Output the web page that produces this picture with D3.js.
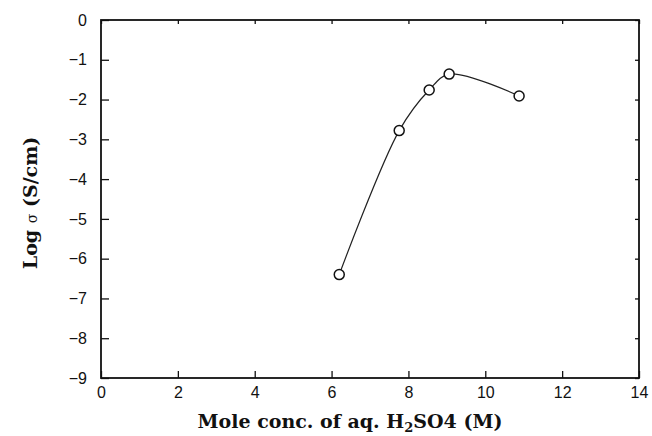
<!DOCTYPE html>
<html>
<head>
<meta charset="utf-8">
<script src="https://cdn.jsdelivr.net/npm/d3@7"></script>
<style>
  body { margin: 0; background: #fff; }
  .tick text { font-family: "Liberation Sans", Arial, sans-serif; font-size: 16px; fill: #111; }
  .title { font-family: "DejaVu Serif", "Liberation Serif", serif; font-weight: bold; font-size: 19px; fill: #111; }
</style>
</head>
<body>
<div id="chart"></div>
<script>
var svgWidth = 652;
var svgHeight = 436;

var margin = { top: 20, right: 13, bottom: 58, left: 101 };
var width = svgWidth - margin.left - margin.right;
var height = svgHeight - margin.top - margin.bottom;

// data
var concentration = [6.2, 7.76, 8.54, 9.06, 10.88];
var logSigma = [-6.4, -2.78, -1.76, -1.36, -1.91];
var xTicks = [0, 2, 4, 6, 8, 10, 12, 14];
var yTicks = [0, -1, -2, -3, -4, -5, -6, -7, -8, -9];

var points = concentration.map((c, i) => ({ x: c, y: logSigma[i] }));

var svg = d3.select("#chart")
  .append("svg")
  .attr("width", svgWidth)
  .attr("height", svgHeight);

var chartGroup = svg.append("g")
  .attr("transform", `translate(${margin.left}, ${margin.top})`);

var xScale = d3.scaleLinear().domain([0, 14]).range([0, width]);
var yScale = d3.scaleLinear().domain([-9, 0]).range([height, 0]);

var fmt = d => d < 0 ? "\u2212" + Math.abs(d) : d;

// bottom + left axes, ticks pointing inward
chartGroup.append("g")
  .attr("transform", `translate(0, ${height})`)
  .call(d3.axisBottom(xScale).tickValues(xTicks).tickSizeInner(-7).tickSizeOuter(0).tickPadding(9).tickFormat(fmt));

chartGroup.append("g")
  .call(d3.axisLeft(yScale).tickValues(yTicks).tickSizeInner(-8).tickSizeOuter(0).tickPadding(14).tickFormat(fmt));

// mirrored ticks on top and right
chartGroup.append("g")
  .call(d3.axisTop(xScale).tickValues(xTicks).tickSizeInner(-4).tickSizeOuter(0).tickFormat(""));
chartGroup.append("g")
  .attr("transform", `translate(${width}, 0)`)
  .call(d3.axisRight(yScale).tickValues(yTicks).tickSizeInner(-4).tickSizeOuter(0).tickFormat(""));

chartGroup.selectAll(".domain").remove();
chartGroup.selectAll(".tick line").attr("stroke", "#111").attr("stroke-width", 1.3);

// frame
chartGroup.append("rect")
  .attr("width", width)
  .attr("height", height)
  .attr("fill", "none")
  .attr("stroke", "#111")
  .attr("stroke-width", 1.8);

// smooth curve through the points
var line = d3.line()
  .x(d => xScale(d.x))
  .y(d => yScale(d.y))
  .curve(d3.curveCatmullRom.alpha(0.5));

chartGroup.append("path")
  .datum(points)
  .attr("d", line)
  .attr("fill", "none")
  .attr("stroke", "#222")
  .attr("stroke-width", 1.2);

chartGroup.selectAll("circle")
  .data(points)
  .enter()
  .append("circle")
  .attr("cx", d => xScale(d.x))
  .attr("cy", d => yScale(d.y))
  .attr("r", 5)
  .attr("fill", "#fff")
  .attr("stroke", "#111")
  .attr("stroke-width", 1.5);

// axis titles
var xTitle = svg.append("text")
  .attr("class", "title")
  .attr("x", margin.left + xScale(7) - 20)
  .attr("y", 428)
  .attr("text-anchor", "middle");
xTitle.append("tspan").text("Mole conc. of aq. H");
xTitle.append("tspan").attr("dy", 4).attr("font-size", 13).text("2");
xTitle.append("tspan").attr("dy", -4).text("SO4 (M)");

var yTitle = svg.append("text")
  .attr("class", "title")
  .attr("transform", `translate(37, ${margin.top + yScale(-4.6)}) rotate(-90)`)
  .attr("text-anchor", "middle");
yTitle.append("tspan").text("Log ");
yTitle.append("tspan").attr("font-size", 14).attr("font-weight", "normal").text("\u03c3");
yTitle.append("tspan").text(" (S/cm)");
</script>
</body>
</html>
